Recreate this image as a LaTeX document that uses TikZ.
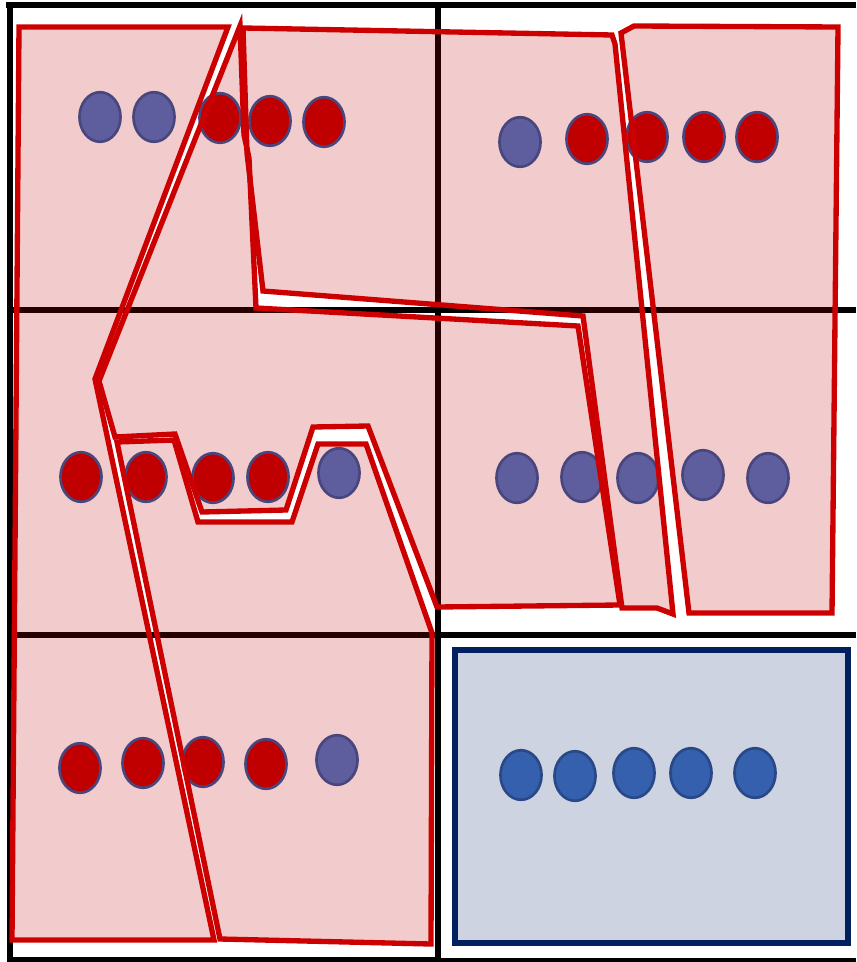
\documentclass[tikz,border=0pt]{standalone}
\definecolor{regfill}{RGB}{192,0,0}
\definecolor{regline}{RGB}{204,0,0}
\definecolor{purpfill}{RGB}{94,94,158}
\definecolor{dotline}{RGB}{72,70,125}
\definecolor{redfill}{RGB}{192,0,0}
\definecolor{bluefill}{RGB}{53,96,173}
\definecolor{bluedotline}{RGB}{42,72,135}
\definecolor{boxfill}{RGB}{205,211,225}
\definecolor{boxline}{RGB}{0,32,96}
\begin{document}
\begin{tikzpicture}[x=0.75pt,y=-0.75pt,
  gridline/.style={line width=4.8pt,black},
  regionfill/.style={fill=regfill,fill opacity=0.2},
  regionline/.style={draw=regline,line width=4pt,line join=miter},
  purpdot/.style={fill=purpfill,draw=dotline,line width=2pt},
  reddot/.style={fill=redfill,draw=dotline,line width=2pt},
  bluedot/.style={fill=bluefill,draw=bluedotline,line width=2pt},
  bluebox/.style={fill=boxfill,draw=boxline,line width=5pt}]
\useasboundingbox (0,0) rectangle (856,962);
% grid
\draw[gridline] (6,5) -- (856,5);
\draw[gridline] (10,2) -- (10,962);
\draw[gridline] (438,2) -- (438,962);
\draw[gridline] (8,310) -- (856,310);
\draw[gridline] (8,635) -- (856,635);
\draw[gridline] (8,960) -- (438,960);
\draw[line width=2.5pt,black] (438,960) -- (856,960);
% regions
\def\polyA{(19,27) -- (228,27) -- (95,379) -- (214,940) -- (12,940) -- cycle}
\def\polyB{(240,26) -- (244,135) -- (249,158) -- (256,308) -- (578,326) -- (620,605) -- (437,607) -- (368,426) -- (313,427) -- (286,510) -- (202,512) -- (175,434) -- (115,437) -- (99,381) -- cycle}
\def\polyC{(117,442) -- (174,440) -- (198,522) -- (292,522) -- (318,444) -- (366,444) -- (432,633) -- (431,944) -- (220,939) -- cycle}
\def\polyD{(243,28) -- (612,35) -- (615,44) -- (673,614) -- (657,608) -- (622,608) -- (583,316) -- (263,291) -- (247,153) -- cycle}
\def\polyE{(621,33) -- (634,26) -- (838,27) -- (832,613) -- (689,613) -- cycle}
\fill[regionfill] \polyA;
\fill[regionfill] \polyB;
\fill[regionfill] \polyC;
\fill[regionfill] \polyD;
\fill[regionfill] \polyE;
% dots
\foreach \p in {(100,117),(154,117),(520,142),(339,473),(517,478),(582,477),(638,478),(703,475),(768,478),(337,760)}
  \draw[purpdot] \p ellipse [x radius=15.4pt, y radius=18.6pt];
\foreach \p in {(220,118),(270,121),(324,122),(587,139),(647,137),(704,137),(757,137),(81,477),(146,477),(213,478),(268,477),(80,768),(143,763),(203,762),(266,764)}
  \draw[reddot] \p ellipse [x radius=15.4pt, y radius=18.6pt];
% outlines
\draw[regionline] \polyA;
\draw[regionline] \polyB;
\draw[regionline] \polyC;
\draw[regionline] \polyD;
\draw[regionline] \polyE;
% blue box
\draw[bluebox] (455,650) rectangle (848,943);
\foreach \p in {(521,775),(575,776),(634,773),(691,773),(755,773)}
  \draw[bluedot] \p ellipse [x radius=15.4pt, y radius=18.6pt];
\end{tikzpicture}
\end{document}
